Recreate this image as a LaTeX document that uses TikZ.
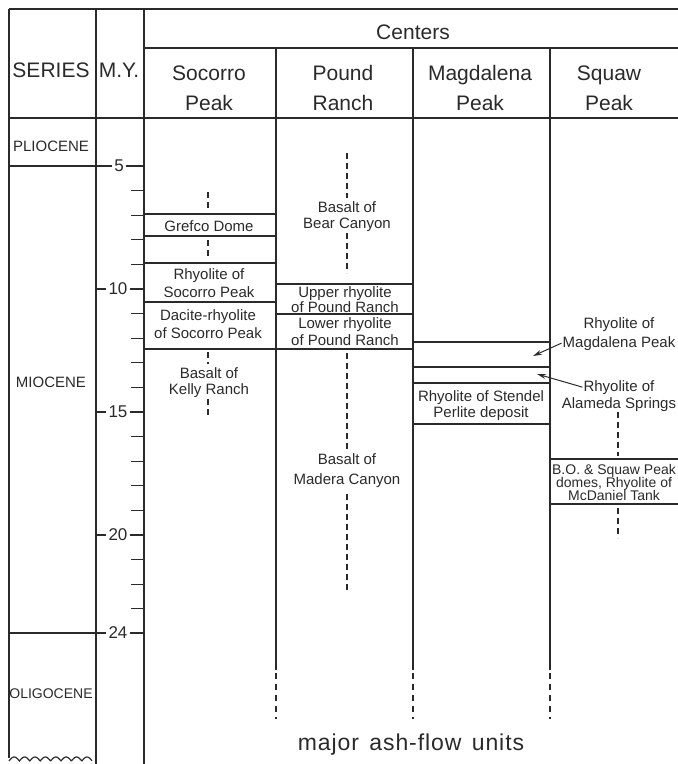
\documentclass[tikz,border=0pt]{standalone}
\usepackage{fontspec}
\setmainfont{Liberation Sans}
\usetikzlibrary{arrows.meta}
\definecolor{ink}{HTML}{2A2A2A}
\begin{document}
\begin{tikzpicture}[x=1pt,y=-1pt,
  frame/.style={line width=1.3pt, draw=ink},
  rule/.style={line width=1.2pt, draw=ink},
  cdash/.style={line width=1.3pt, draw=ink, dash pattern=on 6pt off 4pt},
  bdash/.style={line width=1.3pt, draw=ink, dash pattern=on 6pt off 5pt},
  hdr/.style={font=\fontsize{21}{24}\selectfont, text=ink, inner sep=0pt, anchor=base},
  lbl/.style={font=\fontsize{15}{17}\selectfont, text=ink, inner sep=1pt, anchor=base},
  sml/.style={font=\fontsize{14}{15}\selectfont, text=ink, inner sep=1pt, anchor=base},
  ser/.style={font=\fontsize{15}{15}\selectfont, text=ink, inner sep=0pt, anchor=base},
  num/.style={font=\fontsize{17}{17}\selectfont, text=ink, inner sep=2pt},
  big/.style={font=\fontsize{23}{25}\selectfont\addfontfeature{LetterSpace=4}, text=ink, inner sep=0pt, anchor=base},
  arr/.style={line width=1pt, draw=ink, -{Stealth[length=9pt,width=5pt]}}
]
\useasboundingbox (0,0) rectangle (678,764);
\clip (0,0) rectangle (678,764);

% ---------- frame ----------
\draw[frame] (9,9) -- (678,9);
\draw[frame] (9,9) -- (9,758);
\draw[frame] (96,9) -- (96,764);
\draw[frame] (144,9) -- (144,764);
\draw[frame] (144,48) -- (678,48);
\draw[frame] (9,118) -- (678,118);
\foreach \cx in {276,413,550}{
  \draw[frame] (\cx,48) -- (\cx,670);
  \draw[bdash] (\cx,673) -- (\cx,719);
}
% wavy base of series column
\draw[rule] plot[domain=0:83,samples=160] ({9+\x},{761-4*abs(sin(\x*180/10.4))});

% ---------- header ----------
\node[hdr] (hseries) at (51,77) {SERIES};
\node[hdr] (hmy) at (119,77) {M.Y.};
\node[hdr] (hcenters) at (413,39) {Centers};
\node[hdr] (hsoc1) at (209,80) {Socorro};
\node[hdr] (hsoc2) at (209,110) {Peak};
\node[hdr] (hpou1) at (343,80) {Pound};
\node[hdr] (hpou2) at (343,110) {Ranch};
\node[hdr] (hmag1) at (480,80) {Magdalena};
\node[hdr] (hmag2) at (480,110) {Peak};
\node[hdr] (hsqu1) at (609,80) {Squaw};
\node[hdr] (hsqu2) at (609,110) {Peak};

% ---------- series ----------
\node[ser] (plio) at (51,151) {PLIOCENE};
\node[ser] (mio) at (51,387) {MIOCENE};
\node[ser, font=\fontsize{14}{14}\selectfont] (oligo) at (51,698) {OLIGOCENE};

% ---------- time scale ----------
\foreach \t in {6,7,8,9,11,12,13,14,16,17,18,19,21,22,23}{
  \draw[rule] (131,{166+24.6*(\t-5)}) -- (144,{166+24.6*(\t-5)});
}
\foreach \t/\nm in {10/n10,15/n15,20/n20}{
  \node[num] (\nm) at (118,{166+24.6*(\t-5)}) {\t};
  \draw[rule] (96,{166+24.6*(\t-5)}) -- (\nm.west);
  \draw[rule] (\nm.east) -- (144,{166+24.6*(\t-5)});
}
\node[num] (n5) at (119,166) {5};
\draw[rule] (9,166) -- (n5.west);
\draw[rule] (n5.east) -- (144,166);
\node[num] (n24) at (118,633) {24};
\draw[rule] (9,633) -- (n24.west);
\draw[rule] (n24.east) -- (144,633);

% ---------- Socorro Peak ----------
\foreach \y in {214,236,263,302,349} \draw[rule] (144,\y) -- (276,\y);
\node[lbl] (grefco) at (209,231) {Grefco Dome};
\node[lbl] (rsp1) at (209,279) {Rhyolite of};
\node[lbl] (rsp2) at (209,297) {Socorro Peak};
\node[lbl] (dac1) at (208,320) {Dacite-rhyolite};
\node[lbl] (dac2) at (208,338) {of Socorro Peak};
\node[lbl] (kel1) at (209,378) {Basalt of};
\node[lbl] (kel2) at (209,394) {Kelly Ranch};
\draw[cdash] (208,192) -- (208,211);
\draw[cdash] (208,240) -- (208,258);
\draw[cdash] (208,352) -- (208,364);
\draw[cdash] (208,399) -- (208,416);

% ---------- Pound Ranch ----------
\foreach \y in {284,314,349} \draw[rule] (276,\y) -- (413,\y);
\draw[cdash] (347,153) -- (347,198);
\node[lbl] (bear1) at (347,212) {Basalt of};
\node[lbl] (bear2) at (347,228) {Bear Canyon};
\draw[cdash] (347,233) -- (347,273);
\node[lbl] (upr1) at (345,297) {Upper rhyolite};
\node[lbl] (upr2) at (345,312) {of Pound Ranch};
\node[lbl] (lwr1) at (345,328) {Lower rhyolite};
\node[lbl] (lwr2) at (345,345) {of Pound Ranch};
\draw[cdash] (347,353) -- (347,449);
\node[lbl] (mad1) at (347,464) {Basalt of};
\node[lbl] (mad2) at (347,484) {Madera Canyon};
\draw[cdash] (347,494) -- (347,593);

% ---------- Magdalena Peak ----------
\foreach \y in {342,367,383,424} \draw[rule] (413,\y) -- (550,\y);
\node[lbl] (sten1) at (481,401) {Rhyolite of Stendel};
\node[lbl] (sten2) at (481,417) {Perlite deposit};

% ---------- Squaw Peak ----------
\node[lbl] (mg1) at (619,328) {Rhyolite of};
\node[lbl] (mg2) at (619,347) {Magdalena Peak};
\node[lbl] (al1) at (619,391) {Rhyolite of};
\node[lbl] (al2) at (619,408) {Alameda Springs};
\coordinate (a1) at (533,356);
\coordinate (a2) at (537,374);
\draw[arr] (mg2.west) -- (a1);
\draw[arr] (al1.west) -- (a2);
\draw[cdash] (618,412) -- (618,456);
\foreach \y in {459,504} \draw[rule] (550,\y) -- (678,\y);
\node[sml] (bo1) at (614,474) {B.O. \& Squaw Peak};
\node[sml] (bo2) at (614,487) {domes, Rhyolite of};
\node[sml] (bo3) at (614,500) {McDaniel Tank};
\draw[cdash] (618,508) -- (618,538);

% ---------- footer ----------
\node[big] (ash) at (411,750) {major\hspace{0.45em}ash-flow\hspace{0.45em}units};
\end{tikzpicture}
\end{document}
